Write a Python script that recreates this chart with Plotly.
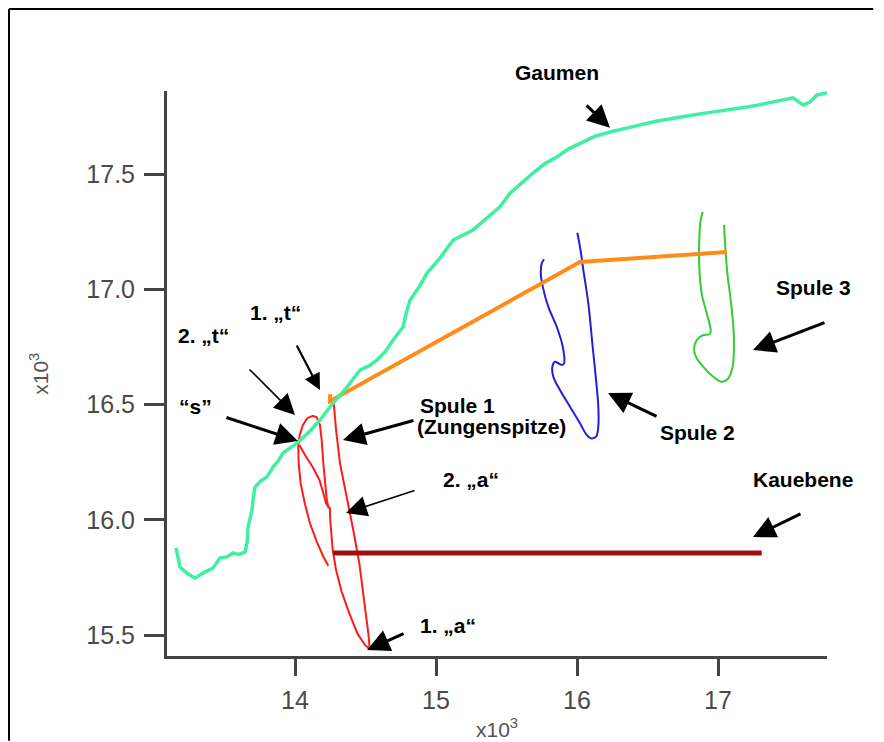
import plotly.graph_objects as go

# ---------------- data (x10^3 units) ----------------
gaumen_x = [13.156, 13.170, 13.184, 13.230, 13.291, 13.350, 13.418, 13.468, 13.520, 13.560,
            13.600, 13.645, 13.660, 13.667, 13.680, 13.695, 13.705, 13.716, 13.760, 13.801,
            13.844, 13.880, 13.915, 13.960, 14.014, 14.092, 14.177, 14.270, 14.369, 14.461,
            14.530, 14.582, 14.640, 14.695, 14.766, 14.790, 14.816, 14.880, 14.936, 15.028,
            15.121, 15.262, 15.360, 15.454, 15.525, 15.600, 15.688, 15.770, 15.858, 15.940,
            16.021, 16.130, 16.234, 16.340, 16.447, 16.560, 16.681, 16.800, 16.922, 17.040,
            17.156, 17.270, 17.390, 17.470, 17.532, 17.570, 17.603, 17.652, 17.702, 17.773]
gaumen_y = [15.878, 15.840, 15.795, 15.770, 15.747, 15.770, 15.791, 15.834, 15.840, 15.856,
            15.850, 15.860, 15.900, 15.969, 16.000, 16.043, 16.100, 16.142, 16.170, 16.186,
            16.229, 16.255, 16.290, 16.310, 16.333, 16.377, 16.433, 16.507, 16.576, 16.650,
            16.670, 16.694, 16.730, 16.780, 16.837, 16.900, 16.954, 17.010, 17.071, 17.136,
            17.214, 17.258, 17.310, 17.358, 17.418, 17.460, 17.505, 17.545, 17.575, 17.610,
            17.635, 17.665, 17.683, 17.700, 17.714, 17.730, 17.744, 17.755, 17.766, 17.775,
            17.787, 17.798, 17.813, 17.822, 17.831, 17.815, 17.800, 17.813, 17.844, 17.852]

spule1_x = [14.272, 14.291, 14.319, 14.367, 14.413, 14.456, 14.491, 14.520, 14.530, 14.496,
            14.442, 14.385, 14.331, 14.291, 14.267, 14.253, 14.248, 14.248, 14.236, 14.225,
            14.213, 14.201, 14.189, 14.177, 14.154, 14.126, 14.087, 14.055, 14.033, 14.023,
            14.026, 14.040, 14.069, 14.106, 14.154, 14.201, 14.236,
            None,
            14.031, 14.071, 14.126, 14.173, 14.201, 14.220, 14.243]
spule1_y = [16.527, 16.390, 16.245, 16.100, 15.956, 15.811, 15.652, 15.507, 15.438, 15.457,
            15.507, 15.594, 15.688, 15.782, 15.869, 15.956, 16.013, 16.050, 16.057, 16.086,
            16.158, 16.245, 16.346, 16.411, 16.445, 16.451, 16.441, 16.411, 16.368, 16.317,
            16.245, 16.158, 16.072, 15.985, 15.905, 15.840, 15.801,
            None,
            16.325, 16.281, 16.228, 16.173, 16.115, 16.072, 16.050]

spule2_x = [15.766, 15.750, 15.743, 15.757, 15.796, 15.856, 15.899, 15.908, 15.891, 15.844,
            15.825, 15.832, 15.879, 15.950, 16.021, 16.069, 16.097, 16.135, 16.151, 16.151,
            16.135, 16.111, 16.080, 16.045, 16.021, 16.002]
spule2_y = [17.131, 17.113, 17.070, 17.012, 16.925, 16.838, 16.751, 16.679, 16.672, 16.686,
            16.664, 16.621, 16.563, 16.491, 16.419, 16.368, 16.354, 16.361, 16.404, 16.491,
            16.607, 16.751, 16.940, 17.084, 17.185, 17.246]

spule3_x = [16.891, 16.877, 16.867, 16.867, 16.884, 16.920, 16.948, 16.943, 16.896, 16.849,
            16.830, 16.849, 16.896, 16.967, 17.026, 17.073, 17.104, 17.113, 17.109, 17.090,
            17.066, 17.050, 17.043]
spule3_y = [17.337, 17.300, 17.214, 17.099, 16.983, 16.896, 16.824, 16.806, 16.802, 16.780,
            16.737, 16.701, 16.664, 16.621, 16.599, 16.614, 16.664, 16.751, 16.838, 16.954,
            17.070, 17.200, 17.280]

orange_x = [14.248, 14.248, 16.021, 17.064]
orange_y = [16.545, 16.515, 17.119, 17.162]

kauebene_x = [14.270, 17.310]
kauebene_y = [15.856, 15.856]

x_ticks = [14, 15, 16, 17]
y_ticks = [15.5, 16.0, 16.5, 17.0, 17.5]
y_ticktext = ["15.5", "16.0", "16.5", "17.0", "17.5"]

# labels: (text, x, y, xanchor)
labels = [
    ("Spule 3", 17.674, 17.010, "center"),
    ("Spule 2", 16.851, 16.381, "center"),
    ("Spule 1", 14.872, 16.494, "left"),
    ("(Zungenspitze)", 14.851, 16.403, "left"),
    ("2. \u201ea\u201c", 15.035, 16.173, "left"),
    ("1. \u201ea\u201c", 14.872, 15.543, "left"),
    ("Kauebene", 17.603, 16.173, "center"),
    ("\u201cs\u201d", 13.291, 16.490, "center"),
    ("2. \u201et\u201c", 13.348, 16.798, "center"),
    ("1. \u201et\u201c", 13.858, 16.898, "center"),
]
gaumen_label = ("Gaumen", 15.858)
# arrows: (head x, head y, tail dx px, tail dy px, width)
arrows = [
    (16.234, 17.701, -25, -24, 3),
    (17.248, 16.737, 73, -28, 3),
    (16.220, 16.550, 50, 24, 3),
    (14.340, 16.346, 72, -20, 3),
    (14.362, 16.030, 70, -23, 1.6),
    (14.511, 15.435, 38, -17, 3),
    (17.248, 15.925, 49, -24, 3),
    (14.021, 16.342, -73, -24, 3),
    (14.000, 16.455, -47, -47, 1.6),
    (14.177, 16.563, -24, -46, 2.2),
]

FONT = "Liberation Sans, Arial, sans-serif"

fig = go.Figure()
fig.add_trace(go.Scatter(x=spule1_x, y=spule1_y, mode="lines",
                         line=dict(color="#ff1a1a", width=2), connectgaps=False))
fig.add_trace(go.Scatter(x=spule2_x, y=spule2_y, mode="lines",
                         line=dict(color="#2020d8", width=2, shape="spline")))
fig.add_trace(go.Scatter(x=spule3_x, y=spule3_y, mode="lines",
                         line=dict(color="#33cc33", width=2, shape="spline")))
fig.add_trace(go.Scatter(x=kauebene_x, y=kauebene_y, mode="lines",
                         line=dict(color="#9e1010", width=5)))
fig.add_trace(go.Scatter(x=orange_x, y=orange_y, mode="lines",
                         line=dict(color="#ff8c1a", width=4)))
fig.add_trace(go.Scatter(x=gaumen_x, y=gaumen_y, mode="lines",
                         line=dict(color="#40f0a0", width=3.5)))

annotations = []
for t, x, y, xa in labels:
    annotations.append(dict(text="<b>" + t + "</b>", x=x, y=y, xref="x", yref="y", xanchor=xa,
                            yanchor="middle", showarrow=False,
                            font=dict(family=FONT, size=21, color="black")))
annotations.append(dict(text="<b>" + gaumen_label[0] + "</b>", x=gaumen_label[1], y=1.032,
                        xref="x", yref="paper", xanchor="center", yanchor="middle",
                        showarrow=False, font=dict(family=FONT, size=21, color="black")))
for hx, hy, dx, dy, w in arrows:
    annotations.append(dict(text="", x=hx, y=hy, xref="x", yref="y", ax=dx, ay=dy,
                            showarrow=True, arrowhead=2, arrowsize=1.5 if w > 2 else 2.6,
                            arrowwidth=w, arrowcolor="black", standoff=0))
annotations.append(dict(text="x10<sup>3</sup>", x=-0.195, y=0.50, xref="paper", yref="paper",
                        xanchor="center", yanchor="middle",
                        textangle=-90, showarrow=False,
                        font=dict(family=FONT, size=21, color="#555555")))
annotations.append(dict(text="x10<sup>3</sup>", x=0.50, y=-0.127, xref="paper", yref="paper",
                        xanchor="center", yanchor="middle", showarrow=False,
                        font=dict(family=FONT, size=21, color="#555555")))

border = dict(color="black", width=2)
fig.update_layout(
    width=868, height=734,
    margin=dict(l=159, r=49, t=83, b=86),
    paper_bgcolor="white", plot_bgcolor="white",
    showlegend=False,
    annotations=annotations,
    shapes=[
        dict(type="line", xref="paper", yref="paper",
             x0=-0.2394, x1=1.07, y0=1.1451, y1=1.1451, line=border),
        dict(type="line", xref="paper", yref="paper",
             x0=-0.2394, x1=-0.2394, y0=1.1451, y1=-0.15, line=border),
    ],
    xaxis=dict(range=[13.092, 17.773], tickvals=x_ticks, showgrid=False, zeroline=False,
               showline=True, linecolor="#444444", linewidth=3,
               ticks="outside", ticklen=17, tickwidth=3, tickcolor="#444444",
               ticklabelstandoff=3,
               tickfont=dict(family=FONT, size=25, color="#4a4a4a")),
    yaxis=dict(range=[15.409, 17.861], tickvals=y_ticks, ticktext=y_ticktext,
               showgrid=False, zeroline=False,
               showline=True, linecolor="#444444", linewidth=3,
               ticks="outside", ticklen=20, tickwidth=3, tickcolor="#444444",
               ticklabelstandoff=4,
               tickfont=dict(family=FONT, size=25, color="#4a4a4a")),
)

fig.write_html("out.html")
